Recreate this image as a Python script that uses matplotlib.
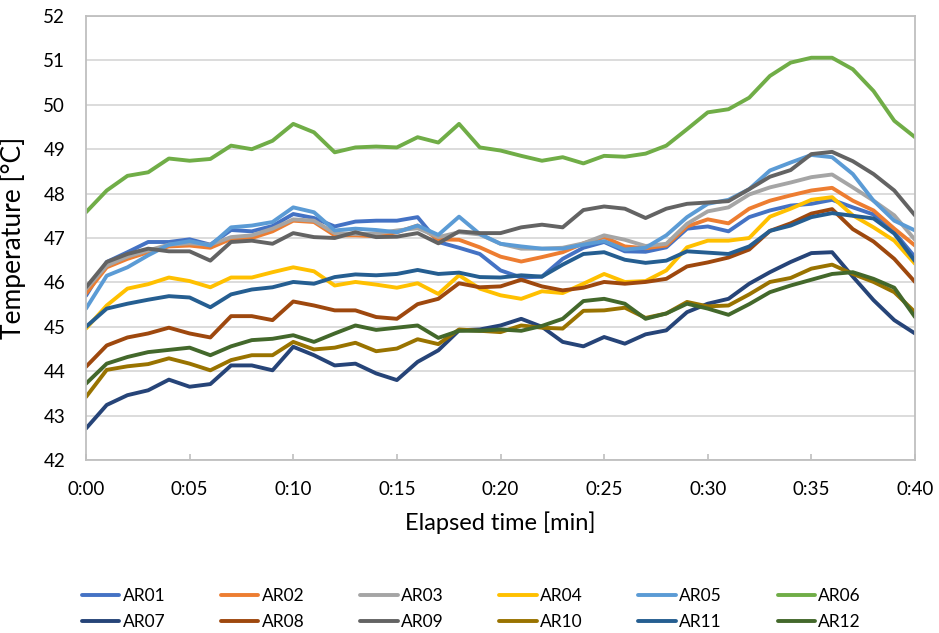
import numpy as np
import matplotlib
matplotlib.use("Agg")
import matplotlib.pyplot as plt

plt.rcParams['font.family'] = ['Lato', 'DejaVu Sans']

# elapsed time, one reading per minute
minutes = np.arange(0, 41)

ar01 = [45.70, 46.46, 46.68, 46.91, 46.91, 46.97, 46.85, 47.18, 47.15, 47.27, 47.54,
        47.45, 47.26, 47.37, 47.39, 47.39, 47.47, 46.91, 46.78, 46.64, 46.27,
        46.11, 46.13, 46.53, 46.78, 46.91, 46.70, 46.69, 46.79, 47.21, 47.26,
        47.15, 47.47, 47.62, 47.73, 47.77, 47.86, 47.69, 47.53, 47.13, 46.57]
ar02 = [45.75, 46.34, 46.53, 46.68, 46.81, 46.83, 46.78, 46.98, 47.00, 47.15, 47.39,
        47.36, 47.06, 47.06, 47.04, 47.13, 47.28, 46.97, 46.96, 46.79, 46.58,
        46.47, 46.57, 46.68, 46.88, 47.02, 46.81, 46.77, 46.83, 47.26, 47.42,
        47.33, 47.66, 47.84, 47.96, 48.07, 48.13, 47.84, 47.62, 47.21, 46.83]
ar03 = [45.85, 46.38, 46.58, 46.72, 46.85, 46.88, 46.85, 47.02, 47.06, 47.21, 47.42,
        47.39, 47.11, 47.09, 47.10, 47.17, 47.22, 47.02, 47.13, 47.08, 46.87,
        46.76, 46.76, 46.78, 46.88, 47.06, 46.96, 46.82, 46.87, 47.32, 47.60,
        47.69, 47.98, 48.14, 48.25, 48.37, 48.43, 48.14, 47.84, 47.51, 46.96]
ar04 = [44.96, 45.48, 45.86, 45.96, 46.11, 46.03, 45.89, 46.11, 46.11, 46.23, 46.34,
        46.25, 45.93, 46.01, 45.95, 45.88, 45.98, 45.74, 46.16, 45.86, 45.71,
        45.63, 45.80, 45.76, 45.97, 46.19, 46.01, 46.03, 46.27, 46.79, 46.94,
        46.94, 47.00, 47.48, 47.66, 47.86, 47.92, 47.51, 47.24, 46.94, 46.42]
ar05 = [45.41, 46.15, 46.34, 46.61, 46.85, 46.93, 46.83, 47.24, 47.28, 47.36, 47.69,
        47.58, 47.17, 47.21, 47.18, 47.13, 47.28, 47.07, 47.48, 47.09, 46.87,
        46.81, 46.76, 46.76, 46.85, 46.93, 46.74, 46.78, 47.06, 47.47, 47.77,
        47.86, 48.10, 48.52, 48.70, 48.87, 48.82, 48.44, 47.84, 47.39, 47.17]
ar06 = [47.58, 48.07, 48.40, 48.48, 48.79, 48.74, 48.78, 49.08, 49.00, 49.19, 49.57,
        49.38, 48.93, 49.04, 49.06, 49.04, 49.27, 49.15, 49.57, 49.04, 48.97,
        48.85, 48.74, 48.82, 48.68, 48.85, 48.83, 48.90, 49.08, 49.45, 49.83,
        49.90, 50.16, 50.65, 50.95, 51.06, 51.06, 50.80, 50.31, 49.64, 49.27]
ar07 = [42.71, 43.24, 43.46, 43.57, 43.81, 43.65, 43.71, 44.13, 44.13, 44.02, 44.55,
        44.36, 44.13, 44.17, 43.95, 43.80, 44.21, 44.47, 44.92, 44.94, 45.03,
        45.18, 45.00, 44.66, 44.56, 44.77, 44.62, 44.83, 44.92, 45.33, 45.52,
        45.63, 45.97, 46.23, 46.46, 46.66, 46.68, 46.13, 45.60, 45.15, 44.85]
ar08 = [44.10, 44.58, 44.76, 44.85, 44.98, 44.85, 44.76, 45.24, 45.24, 45.15, 45.57,
        45.48, 45.37, 45.37, 45.22, 45.18, 45.51, 45.63, 45.98, 45.89, 45.91,
        46.06, 45.91, 45.82, 45.88, 46.01, 45.97, 46.01, 46.08, 46.36, 46.45,
        46.56, 46.74, 47.16, 47.33, 47.55, 47.65, 47.20, 46.92, 46.53, 46.01]
ar09 = [45.89, 46.46, 46.64, 46.76, 46.70, 46.70, 46.49, 46.91, 46.94, 46.87, 47.11,
        47.02, 47.00, 47.13, 47.02, 47.03, 47.11, 46.88, 47.15, 47.11, 47.11,
        47.24, 47.30, 47.24, 47.63, 47.71, 47.66, 47.45, 47.66, 47.77, 47.80,
        47.83, 48.10, 48.38, 48.53, 48.89, 48.94, 48.73, 48.44, 48.07, 47.51]
ar10 = [43.42, 44.03, 44.11, 44.16, 44.29, 44.17, 44.02, 44.25, 44.36, 44.36, 44.66,
        44.49, 44.53, 44.64, 44.45, 44.51, 44.72, 44.61, 44.94, 44.91, 44.88,
        45.03, 44.98, 44.96, 45.36, 45.37, 45.43, 45.20, 45.30, 45.56, 45.46,
        45.48, 45.73, 46.01, 46.10, 46.31, 46.40, 46.19, 46.01, 45.78, 45.33]
ar11 = [45.00, 45.41, 45.52, 45.61, 45.69, 45.66, 45.44, 45.73, 45.84, 45.89, 46.01,
        45.97, 46.12, 46.18, 46.16, 46.19, 46.28, 46.19, 46.22, 46.12, 46.11,
        46.16, 46.13, 46.40, 46.64, 46.68, 46.51, 46.44, 46.49, 46.70, 46.67,
        46.64, 46.81, 47.16, 47.28, 47.47, 47.56, 47.50, 47.44, 47.10, 46.48]
ar12 = [43.72, 44.17, 44.32, 44.43, 44.48, 44.53, 44.36, 44.56, 44.70, 44.73, 44.81,
        44.66, 44.85, 45.03, 44.93, 44.98, 45.03, 44.75, 44.91, 44.91, 44.94,
        44.91, 45.02, 45.18, 45.58, 45.63, 45.52, 45.18, 45.30, 45.52, 45.41,
        45.27, 45.51, 45.78, 45.93, 46.06, 46.19, 46.23, 46.08, 45.88, 45.22]

names = ["AR01", "AR02", "AR03", "AR04", "AR05", "AR06",
         "AR07", "AR08", "AR09", "AR10", "AR11", "AR12"]
series = [ar01, ar02, ar03, ar04, ar05, ar06, ar07, ar08, ar09, ar10, ar11, ar12]
colors = ["#4472C4", "#ED7D31", "#A5A5A5", "#FFC000", "#5B9BD5", "#70AD47",
          "#264478", "#9E480E", "#636363", "#997300", "#255E91", "#43682B"]

fig = plt.figure(figsize=(9.39, 6.33), dpi=100)
ax = fig.add_axes([86 / 939, 1 - 460 / 633, 829 / 939, 444 / 633])

lines = []
for name, vals, c in zip(names, series, colors):
    ln, = ax.plot(minutes, vals, color=c, lw=2.8, label=name,
                  solid_joinstyle="round", solid_capstyle="round")
    lines.append(ln)

ax.set_xlim(0, 40)
ax.set_ylim(42, 52)
ax.set_yticks(np.arange(42, 53, 1))
xt = np.arange(0, 41, 5)
ax.set_xticks(xt)
ax.set_xticklabels([f"0:{m:02d}" for m in xt])

ax.grid(axis="y", color="#D9D9D9", lw=1.3)
ax.set_axisbelow(True)
for sp in ax.spines.values():
    sp.set_color("#BFBFBF")
    sp.set_linewidth(1.3)

ax.tick_params(axis="x", direction="in", length=4.5, width=1.2, color="#BFBFBF",
               labelsize=13.5, pad=15, labelcolor="#000000")
ax.tick_params(axis="y", length=0, labelsize=13.5, pad=15, labelcolor="#000000")

ax.set_xlabel("Elapsed time [min]", fontsize=17, labelpad=10)
ax.set_ylabel("Temperature [°C]", fontsize=19, labelpad=12)

# legend is laid out column by column, so interleave the two rows
order = [0, 6, 1, 7, 2, 8, 3, 9, 4, 10, 5, 11]
fig.legend(handles=[lines[i] for i in order], labels=[names[i] for i in order],
           ncol=6, frameon=False,
           loc="upper left", bbox_to_anchor=(82 / 939, 1 - 588 / 633),
           fontsize=12.5, handlelength=2.15, handletextpad=0.2,
           columnspacing=3.2, labelspacing=0.6, borderpad=0, borderaxespad=0)

fig.savefig("out.png", dpi=100)
